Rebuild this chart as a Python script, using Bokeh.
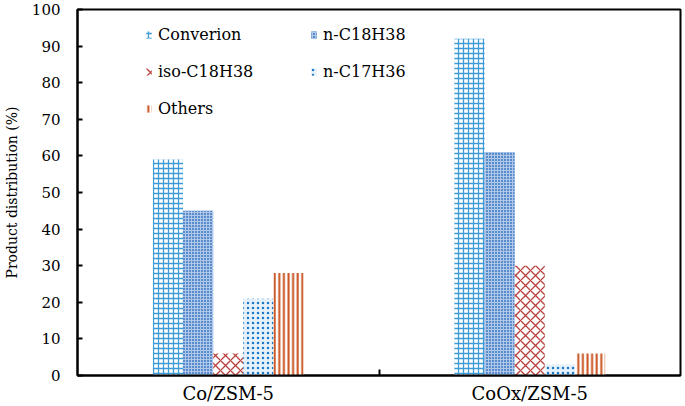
from bokeh.plotting import figure
from bokeh.models import (ColumnDataSource, FactorRange, Range1d, LinearAxis, CategoricalAxis,
                          FixedTicker, Legend, LegendItem)
from bokeh.transform import dodge
from bokeh.embed import file_html
from bokeh.resources import INLINE

categories = ["Co/ZSM-5", "CoOx/ZSM-5"]
conversion = [59, 92]
n_c18h38 = [45, 61]
iso_c18h38 = [6, 30]
n_c17h36 = [21, 3]
others = [28, 6]
series_names = ["Converion", "n-C18H38", "iso-C18H38", "n-C17H36", "Others"]
y_ticks = [0, 10, 20, 30, 40, 50, 60, 70, 80, 90, 100]

FONT = "DejaVu Serif"

source = ColumnDataSource(dict(cat=categories, conv=conversion, nc18=n_c18h38,
                               iso=iso_c18h38, nc17=n_c17h36, oth=others))

p = figure(x_range=FactorRange(*categories), y_range=Range1d(0, 100),
           width=685, height=406, min_border_left=76, min_border_top=9,
           min_border_right=5, min_border_bottom=31,
           x_axis_location=None, y_axis_location=None,
           output_backend="svg", toolbar_location=None)
p.xgrid.visible = False
p.ygrid.visible = False
p.outline_line_color = "black"
p.outline_line_width = 2
p.background_fill_color = "white"
p.border_fill_color = "white"

# y axis
yax = LinearAxis(ticker=FixedTicker(ticks=y_ticks), axis_label="Product distribution (%)")
yax.axis_line_width = 2
yax.axis_line_color = "black"
yax.major_tick_in = 5
yax.major_tick_out = 0
yax.major_tick_line_width = 2
yax.minor_tick_line_color = None
yax.major_label_standoff = 17
yax.major_label_text_font = FONT
yax.major_label_text_font_style = "normal"
yax.major_label_text_font_size = "15px"
yax.major_label_text_color = "black"
yax.axis_label_text_font = FONT
yax.axis_label_text_font_size = "14px"
yax.axis_label_text_font_style = "normal"
yax.axis_label_text_color = "black"
yax.axis_label_standoff = 9
p.add_layout(yax, "left")

# separator tick between the two groups (a one-factor range whose centre is the frame centre)
p.extra_x_ranges = {"sep": FactorRange("|")}
sax = CategoricalAxis(x_range_name="sep")
sax.major_label_text_color = None
sax.major_label_text_font_size = "1px"
sax.major_label_standoff = 0
sax.major_tick_in = 6
sax.major_tick_out = 0
sax.major_tick_line_width = 2
sax.axis_line_width = 2
sax.axis_line_color = "black"
p.add_layout(sax, "below")

# category axis
xax = CategoricalAxis()
xax.axis_line_color = None
xax.major_tick_line_color = None
xax.major_label_text_font = FONT
xax.major_label_text_font_style = "normal"
xax.major_label_text_font_size = "18px"
xax.major_label_text_color = "black"
xax.major_label_standoff = 1
p.add_layout(xax, "below")

w = 0.1
styles = [
    ("conv", -0.2, dict(fill_color="white", hatch_pattern="cross", hatch_color="#3E9BD6",
                        hatch_scale=5, hatch_weight=1.3)),
    ("nc18", -0.1, dict(fill_color="#5A8BCB", hatch_pattern="cross", hatch_color="#AFC8EA",
                        hatch_scale=3, hatch_weight=1)),
    ("iso", 0.0, dict(fill_color="white", hatch_pattern="diagonal_cross", hatch_color="#B9403D",
                      hatch_scale=10, hatch_weight=1.3)),
    ("nc17", 0.1, dict(fill_color="#E6F1FB", hatch_pattern="dot", hatch_color="#1A78C8",
                       hatch_scale=5, hatch_weight=3)),
    ("oth", 0.2, dict(fill_color="white", hatch_pattern="vertical_line", hatch_color="#C9501C",
                      hatch_scale=4.6, hatch_weight=2)),
]
renderers = []
for col, off, st in styles:
    r = p.vbar(x=dodge("cat", off, range=p.x_range), top=col, width=w, bottom=0,
               source=source, line_color=None, **st)
    renderers.append(r)

def make_legend(items, loc):
    lg = Legend(items=items, location=loc)
    lg.label_text_font = FONT
    lg.label_text_font_style = "normal"
    lg.label_text_font_size = "16px"
    lg.label_text_color = "black"
    lg.glyph_width = 7
    lg.glyph_height = 9
    lg.label_standoff = 6
    lg.label_height = 20
    lg.spacing = 17
    lg.padding = 0
    lg.margin = 0
    lg.border_line_color = None
    lg.background_fill_alpha = 0
    return lg

left_items = [LegendItem(label=series_names[i], renderers=[renderers[i]]) for i in (0, 2, 4)]
right_items = [LegendItem(label=series_names[i], renderers=[renderers[i]]) for i in (1, 3)]
p.add_layout(make_legend(left_items, (68, 257)), "center")
p.add_layout(make_legend(right_items, (233, 294)), "center")

open("out.html", "w").write(file_html(p, INLINE))
